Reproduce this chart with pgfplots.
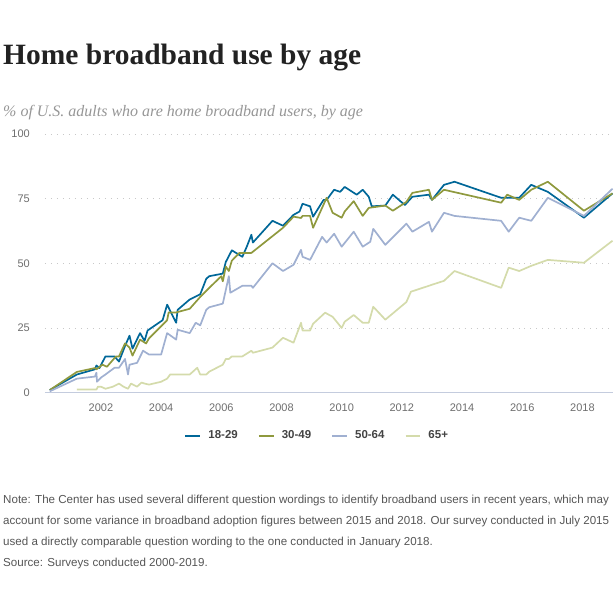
\documentclass[border=0pt]{standalone}
\usepackage{fontspec}
\setmainfont{Liberation Sans}
\newfontfamily\serifB{Liberation Serif}
\usepackage{pgfplots}
\pgfplotsset{compat=1.18}
\definecolor{cA}{RGB}{0,103,152}
\definecolor{cB}{RGB}{143,153,62}
\definecolor{cC}{RGB}{160,176,209}
\definecolor{cD}{RGB}{212,219,171}
\definecolor{tickgray}{RGB}{110,110,110}
\definecolor{titlecol}{RGB}{34,34,34}
\definecolor{subcol}{RGB}{150,150,150}
\definecolor{notecol}{RGB}{85,85,85}
\definecolor{gridc}{RGB}{200,200,200}
\definecolor{zeroc}{RGB}{196,204,222}
\begin{document}
\begin{tikzpicture}
\path (0pt,0pt) rectangle (614pt,-614pt);
\node[anchor=base west, inner sep=0, text=titlecol, font=\serifB\bfseries\fontsize{29.5}{32}\selectfont] at (3pt,-65pt) {Home broadband use by age};
\node[anchor=base west, inner sep=0, text=subcol, font=\serifB\itshape\fontsize{16}{18}\selectfont] at (3pt,-117pt) {\% of U.S. adults who are home broadband users, by age};
\begin{axis}[
  at={(45pt,-393pt)}, anchor=south west,
  scale only axis, width=569pt, height=259pt,
  xmin=2000.14, xmax=2019.03, ymin=0, ymax=100,
  axis line style={draw=none},
  major tick length=0pt,
  xtick={2002,2004,2006,2008,2010,2012,2014,2016,2018},
  xticklabels={2002,2004,2006,2008,2010,2012,2014,2016,2018},
  ytick={25,50,75,100},
  yticklabels={25,50,75,100},
  extra y ticks={0}, extra y tick labels={0},
  extra y tick style={grid=none},
  ymajorgrids,
  grid style={gridc, line width=0.7pt, dash pattern=on 1pt off 5pt},
  xticklabel style={font=\fontsize{11}{12}\selectfont, text=tickgray, anchor=base, inner sep=0pt, yshift=-19pt},
  yticklabel style={font=\fontsize{11}{12}\selectfont, text=tickgray, anchor=east, inner sep=0pt, xshift=-15pt},
  clip=false,
  legend columns=4,
  legend style={at={(0.4772,-0.166)}, anchor=center, draw=none, fill=none,
    font=\bfseries\fontsize{11.5}{12}\selectfont, text=titlecol!85,
    nodes={inner sep=0pt},
    /tikz/every odd column/.append style={column sep=7pt},
    /tikz/every even column/.append style={column sep=20pt}},
  legend image code/.code={\draw[line width=2pt] (0pt,0pt) -- (15pt,0pt);},
  every axis plot/.append style={line width=1.7pt, line join=round},
]
\draw[zeroc, line width=1.2pt] (axis cs:2000.14,0) -- (axis cs:2019.03,0);
\addplot[cA] coordinates {
(2000.3,1) (2001.2,7) (2001.8,9) (2001.85,10.5) (2001.95,9.5) (2002.15,14) (2002.45,14) (2002.6,12) (2002.8,18) (2002.95,22) (2003.05,17) (2003.3,23) (2003.45,20) (2003.55,24) (2004.05,28) (2004.2,34) (2004.5,27) (2004.55,32) (2004.95,36) (2005.3,38) (2005.5,44) (2005.6,45) (2006.05,46) (2006.15,50.5) (2006.35,55) (2006.7,52.5) (2006.85,56.5) (2007.0,61) (2007.05,58) (2007.7,66.4) (2008.05,64.5) (2008.4,68.7) (2008.6,70) (2008.7,73) (2008.95,72) (2009.05,68) (2009.4,74.5) (2009.5,74.5) (2009.75,78.4) (2009.95,77.6) (2010.1,79.5) (2010.5,76.5) (2010.7,78.4) (2010.9,75.7) (2011.0,72) (2011.45,72.3) (2011.7,76.5) (2012.1,72.5) (2012.35,75.7) (2012.9,76.5) (2013.0,74.5) (2013.4,80.3) (2013.75,81.5) (2015.3,75.3) (2015.9,75.3) (2016.3,80.3) (2016.85,77.6) (2018.05,67.6) (2019.0,77)
};
\addlegendentry{18-29}
\addplot[cB] coordinates {
(2000.3,1) (2001.2,8) (2001.8,9.5) (2001.85,9) (2002.05,10.8) (2002.2,10) (2002.5,14) (2002.6,14) (2002.8,19) (2002.95,17.4) (2003.05,14.3) (2003.3,20.5) (2003.5,19) (2003.6,21) (2004.2,28) (2004.25,31) (2004.5,31) (2004.95,32.4) (2005.3,37) (2005.6,40.5) (2006.0,45) (2006.05,43) (2006.15,48.7) (2006.25,47) (2006.35,51) (2006.6,54) (2007.0,54) (2008.05,63.7) (2008.4,68) (2008.65,67.5) (2008.7,68.3) (2008.95,68.3) (2009.05,63.7) (2009.5,75.3) (2009.7,69.5) (2010.0,67.6) (2010.1,70) (2010.4,74) (2010.7,68.3) (2010.9,71.4) (2011.45,72.3) (2011.7,70.3) (2012.15,73.7) (2012.35,77.2) (2012.9,78.4) (2013.0,74.5) (2013.4,78.4) (2015.3,73.4) (2015.5,76.5) (2015.9,74.5) (2016.3,78.4) (2016.85,81.5) (2018.05,70.3) (2019.0,77)
};
\addlegendentry{30-49}
\addplot[cC] coordinates {
(2000.3,0.5) (2001.2,5.4) (2001.8,6.2) (2001.85,7.7) (2001.87,4.2) (2002.0,5.8) (2002.15,7) (2002.45,9.6) (2002.6,9.6) (2002.8,13) (2002.9,7) (2002.95,10.8) (2003.2,11.5) (2003.4,16.2) (2003.6,14.7) (2004.0,14.7) (2004.2,23) (2004.5,20.5) (2004.55,24.3) (2004.95,23) (2005.15,27) (2005.3,26) (2005.5,32) (2005.6,33) (2006.05,34.4) (2006.25,45) (2006.3,38.6) (2006.7,41.3) (2007.0,41.3) (2007.05,40.5) (2007.7,50) (2008.05,47) (2008.4,49.4) (2008.65,55.2) (2008.7,52.5) (2008.95,51.3) (2009.35,60.2) (2009.5,58) (2009.75,61.4) (2010.0,56.4) (2010.4,62.2) (2010.7,56.4) (2010.95,58.3) (2011.05,63.3) (2011.45,57.1) (2012.15,65.3) (2012.35,62.2) (2012.9,66) (2013.0,62.2) (2013.4,69.5) (2013.75,68.3) (2015.3,66.4) (2015.55,62.2) (2015.9,67.6) (2016.3,66.4) (2016.85,75.3) (2018.05,68.3) (2019.0,78.8)
};
\addlegendentry{50-64}
\addplot[cD] coordinates {
(2001.2,1.2) (2001.85,1.2) (2001.9,2.3) (2002.0,2.3) (2002.15,1.5) (2002.4,2.3) (2002.6,3.5) (2002.75,2.3) (2002.9,1.5) (2003.0,3.5) (2003.2,2.3) (2003.35,3.9) (2003.45,3.5) (2003.6,3.1) (2004.0,4.2) (2004.2,5.4) (2004.3,7) (2004.95,7) (2005.2,9.6) (2005.3,7) (2005.5,7) (2005.6,8.1) (2006.05,10.8) (2006.15,13) (2006.25,13) (2006.35,14) (2006.7,14) (2007.0,16.2) (2007.05,15.4) (2007.7,17.4) (2008.05,21.2) (2008.4,19.3) (2008.65,27) (2008.7,24) (2008.95,24) (2009.05,26.6) (2009.45,30.9) (2009.7,29.3) (2010.0,25) (2010.1,27.4) (2010.4,30) (2010.7,27) (2010.9,27) (2011.05,33.2) (2011.45,28.2) (2012.15,35) (2012.3,39) (2012.9,41.3) (2013.0,41.7) (2013.4,43.2) (2013.75,47) (2015.3,40.5) (2015.55,48.3) (2015.9,47) (2016.3,49) (2016.85,51.3) (2018.05,50.2) (2019.0,58.7)
};
\addlegendentry{65+}
\end{axis}
\begin{scope}[every node/.style={anchor=base west, inner sep=0, text=notecol, font=\fontsize{11.6}{13}\selectfont}]
\node at (3pt,-504pt) {Note: The Center has used several different question wordings to identify broadband users in recent years, which may};
\node at (3pt,-525pt) {account for some variance in broadband adoption figures between 2015 and 2018. Our survey conducted in July 2015};
\node at (3pt,-546pt) {used a directly comparable question wording to the one conducted in January 2018.};
\node at (3pt,-567pt) {Source: Surveys conducted 2000-2019.};
\end{scope}
\end{tikzpicture}
\end{document}
